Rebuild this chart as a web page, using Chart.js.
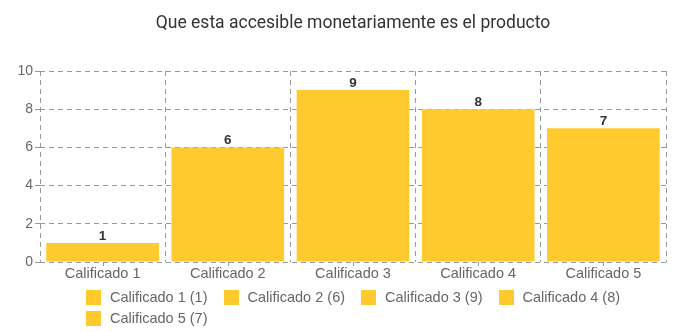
<!DOCTYPE html>
<html>
<head>
<meta charset="utf-8">
<script src="https://cdn.jsdelivr.net/npm/chart.js@4"></script>
<style>
  html, body { margin: 0; padding: 0; background: #fff; }
  #wrap { position: relative; width: 673px; height: 332px; }
  #legend { position: absolute; left: 86px; top: 288px; width: 587px;
    font: 14.5px "Liberation Sans", Arial, sans-serif; color: #666; }
  #legend span.item { display: inline-block; margin-right: 16px; height: 21px; line-height: 18px; white-space: nowrap; }
  #legend span.box { display: inline-block; width: 15px; height: 15px; vertical-align: -3px; margin-right: 9px; }
</style>
</head>
<body>
<div id="wrap">
  <canvas id="chart" width="673" height="332"></canvas>
  <div id="legend"></div>
</div>
<script>
const titleText = 'Que esta accesible monetariamente es el producto';
const categories = ['Calificado 1', 'Calificado 2', 'Calificado 3', 'Calificado 4', 'Calificado 5'];
const values = [1, 6, 9, 8, 7];
const barColor = '#FFCA2E';

// titulo centrado sobre el area del grafico, valores encima de las barras
const extras = {
    id: 'extras',
    afterDraw(chart) {
        const ctx = chart.ctx;
        const area = chart.chartArea;
        const xScale = chart.scales.x;
        ctx.save();
        ctx.font = '17.5px Roboto, "Liberation Sans", sans-serif';
        ctx.fillStyle = '#333';
        ctx.textAlign = 'center';
        ctx.textBaseline = 'middle';
        ctx.fillText(titleText, (area.left + area.right) / 2, 24);

        // marcas pequeñas en el centro de cada categoria
        ctx.strokeStyle = '#999';
        ctx.lineWidth = 1;
        categories.forEach((c, i) => {
            const x = Math.round(xScale.getPixelForValue(i)) + 0.5;
            ctx.beginPath();
            ctx.moveTo(x, area.bottom);
            ctx.lineTo(x, area.bottom + 4);
            ctx.stroke();
        });

        const meta = chart.getDatasetMeta(0);
        ctx.font = 'bold 13.5px "Liberation Sans", Arial, sans-serif';
        ctx.fillStyle = '#333';
        ctx.textBaseline = 'bottom';
        meta.data.forEach((bar, i) => {
            ctx.fillText(values[i], bar.x, bar.y);
        });
        ctx.restore();
    }
};

new Chart(document.getElementById('chart'), {
    type: 'bar',
    data: {
        labels: categories,
        datasets: [{
            data: values,
            backgroundColor: barColor,
            barPercentage: 0.9,
            categoryPercentage: 1.0
        }]
    },
    options: {
        responsive: false,
        animation: false,
        layout: { padding: { left: 10, right: 7, top: 71, bottom: 50 } },
        plugins: {
            legend: { display: false },
            tooltip: { enabled: false },
            title: { display: false }
        },
        scales: {
            y: {
                min: 0,
                max: 10,
                ticks: { stepSize: 2, color: '#666', padding: 2,
                    font: { family: 'Liberation Sans', size: 14 } },
                grid: { color: '#999', tickLength: 5 },
                border: { display: false, dash: [5, 4] },
                afterFit(scale) { scale.width = 30; }
            },
            x: {
                ticks: { color: '#666', padding: 3,
                    font: { family: 'Liberation Sans', size: 14.5 } },
                grid: { color: '#999', offset: true, tickLength: 0 },
                border: { display: false, dash: [5, 4] },
                afterFit(scale) { scale.height = 20; }
            }
        }
    },
    plugins: [extras]
});

const legendEl = document.getElementById('legend');
categories.forEach((c, i) => {
    const item = document.createElement('span');
    item.className = 'item';
    item.innerHTML = '<span class="box" style="background:' + barColor + '"></span>' + c + ' (' + values[i] + ')';
    legendEl.appendChild(item);
});
</script>
</body>
</html>
